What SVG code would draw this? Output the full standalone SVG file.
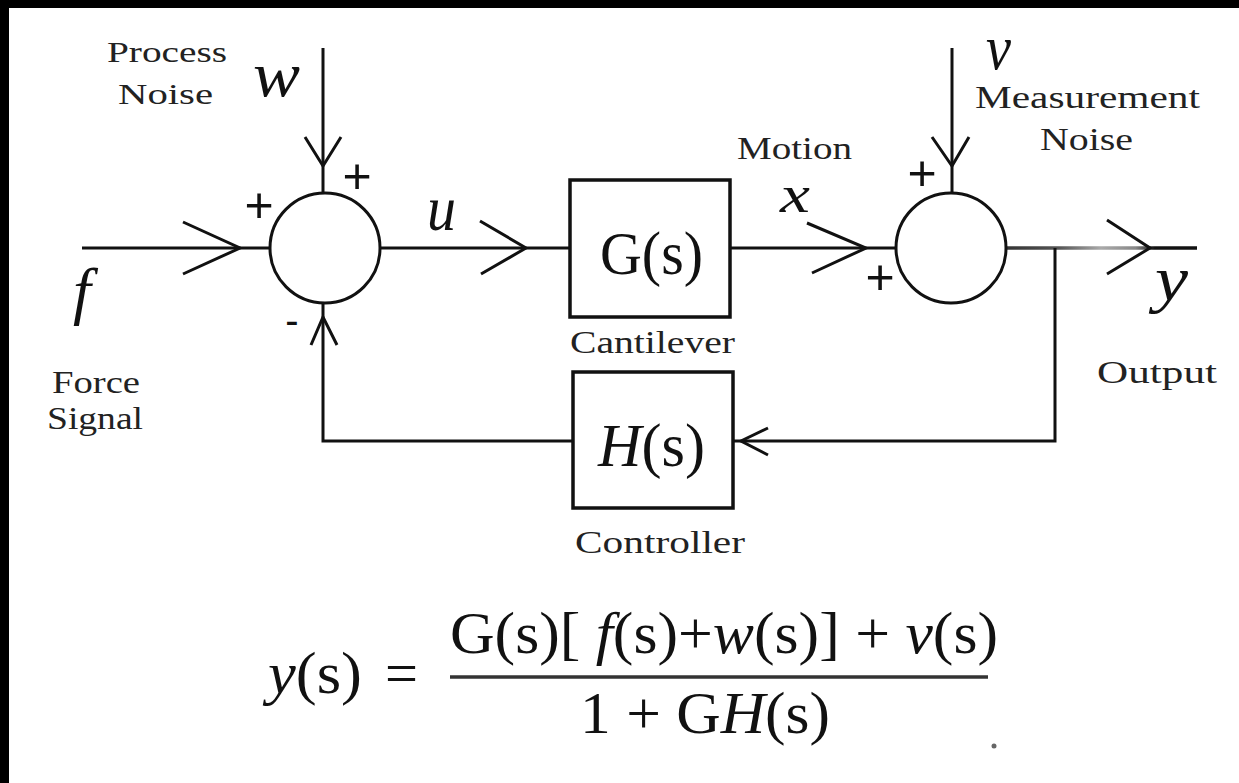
<svg xmlns="http://www.w3.org/2000/svg" width="1239" height="783" viewBox="0 0 1239 783">
<defs>
<style>
.ln{fill:none;stroke:#111;stroke-width:3;stroke-linecap:butt;stroke-linejoin:miter}
.ah{fill:none;stroke:#111;stroke-width:3;stroke-linejoin:miter}
.blk{fill:#fff;stroke:#111;stroke-width:3.5}
.sum{fill:#fff;stroke:#111;stroke-width:3}
.lbl{font-family:"Liberation Serif","Times New Roman",serif;font-size:32px;fill:#222}
.math{font-family:"Liberation Serif","Times New Roman",serif;font-style:italic;font-size:64px;fill:#111}
.sign{font-family:"Liberation Sans",Arial,sans-serif;font-size:50px;fill:#111;text-anchor:middle}
.eq{font-family:"Liberation Serif","Times New Roman",serif;font-size:60px;fill:#111}
.it{font-style:italic}
</style>
<linearGradient id="outg" gradientUnits="userSpaceOnUse" x1="1005" y1="0" x2="1197" y2="0">
<stop offset="0" stop-color="#333"/>
<stop offset="0.28" stop-color="#555"/>
<stop offset="0.5" stop-color="#aaa"/>
<stop offset="0.68" stop-color="#888"/>
<stop offset="0.78" stop-color="#111"/>
<stop offset="1" stop-color="#111"/>
</linearGradient>
</defs>
<rect x="0" y="0" width="1239" height="783" fill="#fff"/>
<rect x="0" y="0" width="1239" height="8" fill="#000"/>
<rect x="0" y="0" width="9" height="783" fill="#000"/>

<g id="connectors">
<!-- f input -->
<line class="ln" x1="82" y1="248" x2="269" y2="248"/>
<polyline class="ah" points="183,222 240,248 183,274"/>
<!-- w noise -->
<line class="ln" x1="323" y1="48" x2="323" y2="193"/>
<polyline class="ah" points="305,137 323,166 341,137"/>
<!-- sum1 to G -->
<line class="ln" x1="380" y1="248" x2="570" y2="248"/>
<polyline class="ah" points="480,221 526,248 481,274"/>
<!-- G to sum2 -->
<line class="ln" x1="730" y1="248" x2="896" y2="248"/>
<polyline class="ah" points="807,223 866,248 812,273"/>
<!-- v noise -->
<line class="ln" x1="952" y1="48" x2="952" y2="193"/>
<polyline class="ah" points="932,137 952,166 969,137"/>
<!-- output -->
<line x1="1006" y1="248" x2="1197" y2="248" stroke="url(#outg)" stroke-width="3.5"/>
<polyline class="ah" points="1107,220 1150,248 1107,274"/>
<!-- feedback -->
<polyline class="ln" points="1055,248 1055,441 733,441"/>
<polyline class="ah" points="768,428 741,441 768,455"/>
<polyline class="ln" points="573,441 323,441 323,303"/>
<polyline class="ah" points="311,345 323,317 337,345"/>
</g>

<g id="sum1">
<circle class="sum" cx="325" cy="248" r="55"/>
<text class="sign" x="357" y="193">+</text>
<text class="sign" x="259" y="222">+</text>
<text class="sign" x="292" y="334" style="font-size:40px">-</text>
</g>

<g id="sum2">
<circle class="sum" cx="951" cy="248" r="55"/>
<text class="sign" x="922" y="190">+</text>
<text class="sign" x="880" y="294">+</text>
</g>

<g id="G-block">
<rect class="blk" x="570" y="180" width="160" height="137"/>
<text class="eq" x="600" y="274" textLength="103" lengthAdjust="spacingAndGlyphs" style="font-size:62px">G(s)</text>
<text class="lbl" x="570" y="353" textLength="165" lengthAdjust="spacingAndGlyphs">Cantilever</text>
</g>

<g id="H-block">
<rect class="blk" x="573" y="372" width="160" height="136"/>
<text class="eq" x="598" y="466" textLength="107" lengthAdjust="spacingAndGlyphs" style="font-size:62px"><tspan class="it">H</tspan>(s)</text>
<text class="lbl" x="575" y="553" textLength="170" lengthAdjust="spacingAndGlyphs">Controller</text>
</g>

<g id="input-f">
<text class="math" x="73" y="312">f</text>
<text class="lbl" x="52" y="393" textLength="88" lengthAdjust="spacingAndGlyphs">Force</text>
<text class="lbl" x="47" y="429" textLength="96" lengthAdjust="spacingAndGlyphs">Signal</text>
</g>

<g id="noise-w">
<text class="lbl" x="107" y="62" textLength="120" lengthAdjust="spacingAndGlyphs" style="font-size:30px">Process</text>
<text class="lbl" x="118" y="104" textLength="95" lengthAdjust="spacingAndGlyphs" style="font-size:30px">Noise</text>
<text class="math" x="253" y="96" textLength="47" lengthAdjust="spacingAndGlyphs">w</text>
</g>

<g id="signal-u">
<text class="math" x="427" y="230" textLength="29" lengthAdjust="spacingAndGlyphs">u</text>
</g>

<g id="motion-x">
<text class="lbl" x="737" y="159" textLength="115" lengthAdjust="spacingAndGlyphs">Motion</text>
<text class="math" x="780" y="212" textLength="30" lengthAdjust="spacingAndGlyphs" style="font-size:52px">x</text>
</g>

<g id="noise-v">
<text class="math" x="986" y="69" textLength="25" lengthAdjust="spacingAndGlyphs">v</text>
<text class="lbl" x="975" y="108" textLength="225" lengthAdjust="spacingAndGlyphs">Measurement</text>
<text class="lbl" x="1040" y="150" textLength="93" lengthAdjust="spacingAndGlyphs">Noise</text>
</g>

<g id="output-y">
<text class="math" x="1155" y="300" textLength="33" lengthAdjust="spacingAndGlyphs">y</text>
<text class="lbl" x="1097" y="383" textLength="120" lengthAdjust="spacingAndGlyphs">Output</text>
</g>

<g id="equation">
<text class="eq" x="268" y="693" textLength="94" lengthAdjust="spacingAndGlyphs"><tspan class="it">y</tspan>(s)</text>
<text class="eq" x="385" y="693" textLength="33" lengthAdjust="spacingAndGlyphs">=</text>
<text class="eq" x="450" y="653" textLength="548" lengthAdjust="spacingAndGlyphs">G(s)[ <tspan class="it">f</tspan>(s)+<tspan class="it">w</tspan>(s)] + <tspan class="it">v</tspan>(s)</text>
<line x1="450" y1="677" x2="988" y2="677" stroke="#333" stroke-width="3.5"/>
<text class="eq" x="580" y="733" textLength="250" lengthAdjust="spacingAndGlyphs">1 + G<tspan class="it">H</tspan>(s)</text>
<circle cx="994" cy="746" r="2.5" fill="#666"/>
</g>
</svg>
